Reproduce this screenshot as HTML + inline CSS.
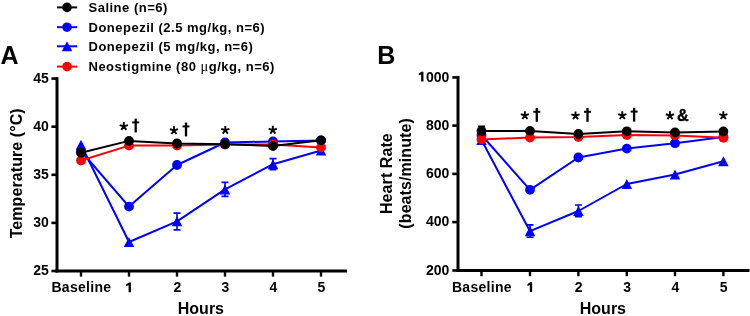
<!DOCTYPE html>
<html><head><meta charset="utf-8"><style>
html,body{margin:0;padding:0;background:#fff;}
svg{display:block;}
text{font-family:"Liberation Sans", sans-serif;font-weight:bold;fill:#000;}
.lg{font-size:13px;letter-spacing:0.5px;}
.pl{font-size:25px;}
.tk{font-size:14px;letter-spacing:0px;}
.tkb{font-size:14px;letter-spacing:0.3px;}
.ax{font-size:16px;letter-spacing:0.08px;}
.axh{font-size:16px;letter-spacing:0px;}
.amp{font-size:16.2px;stroke:#000;stroke-width:0.35px;}
</style></head><body>
<svg width="750" height="316" viewBox="0 0 750 316">
<defs><filter id="gs" x="0" y="0" width="750" height="316" filterUnits="userSpaceOnUse"><feColorMatrix type="saturate" values="0"/></filter></defs>
<rect width="750" height="316" fill="#fff"/>
<line x1="57" y1="7.4" x2="77.2" y2="7.4" stroke="#000" stroke-width="2"/>
<circle cx="67.00" cy="7.40" r="4.8" fill="#000"/>
<line x1="57" y1="27.2" x2="77.2" y2="27.2" stroke="#0000ff" stroke-width="2"/>
<circle cx="67.00" cy="27.20" r="4.8" fill="#0000ff"/>
<line x1="57" y1="46.3" x2="77.2" y2="46.3" stroke="#0000ff" stroke-width="2"/>
<path d="M61.75 51.30 L67.00 41.30 L72.25 51.30 Z" fill="#0000ff"/>
<line x1="57" y1="66.6" x2="77.2" y2="66.6" stroke="#ff0000" stroke-width="2"/>
<circle cx="67.00" cy="66.60" r="4.8" fill="#ff0000"/>
<path d="M57.0 77.1 V272.5" stroke="#000" stroke-width="3" fill="none"/>
<path d="M55.5 271.0 H347.0" stroke="#000" stroke-width="3" fill="none"/>
<path d="M51.4 78.6 H57.0" stroke="#000" stroke-width="2.6" fill="none"/>
<path d="M51.4 126.7 H57.0" stroke="#000" stroke-width="2.6" fill="none"/>
<path d="M51.4 174.8 H57.0" stroke="#000" stroke-width="2.6" fill="none"/>
<path d="M51.4 222.9 H57.0" stroke="#000" stroke-width="2.6" fill="none"/>
<path d="M51.4 271.0 H57.0" stroke="#000" stroke-width="2.6" fill="none"/>
<path d="M81 271.0 V276.6" stroke="#000" stroke-width="2.4" fill="none"/>
<path d="M129 271.0 V276.6" stroke="#000" stroke-width="2.4" fill="none"/>
<path d="M130.90 282.40 L130.90 292.20 L128.60 292.20 L128.60 285.20 L126.25 286.20 L126.25 284.20 L128.95 282.40 Z" fill="#000"/>
<path d="M177 271.0 V276.6" stroke="#000" stroke-width="2.4" fill="none"/>
<path d="M225 271.0 V276.6" stroke="#000" stroke-width="2.4" fill="none"/>
<path d="M273 271.0 V276.6" stroke="#000" stroke-width="2.4" fill="none"/>
<path d="M321 271.0 V276.6" stroke="#000" stroke-width="2.4" fill="none"/>
<path d="M177.00 213.10 V229.90 M173.50 213.10 H180.50 M173.50 229.90 H180.50" stroke="#0000ff" stroke-width="1.6" fill="none"/>
<path d="M225.00 182.40 V196.40 M221.50 182.40 H228.50 M221.50 196.40 H228.50" stroke="#0000ff" stroke-width="1.6" fill="none"/>
<path d="M273.00 158.60 V169.80 M269.50 158.60 H276.50 M269.50 169.80 H276.50" stroke="#0000ff" stroke-width="1.6" fill="none"/>
<polyline points="81.00,144.80 129.00,242.00 177.00,221.30 225.00,189.40 273.00,164.20 321.00,150.50" fill="none" stroke="#0000ff" stroke-width="2" stroke-linejoin="round"/>
<path d="M75.75 149.80 L81.00 139.80 L86.25 149.80 Z" fill="#0000ff"/>
<path d="M123.75 247.00 L129.00 237.00 L134.25 247.00 Z" fill="#0000ff"/>
<path d="M171.75 226.30 L177.00 216.30 L182.25 226.30 Z" fill="#0000ff"/>
<path d="M219.75 194.40 L225.00 184.40 L230.25 194.40 Z" fill="#0000ff"/>
<path d="M267.75 169.20 L273.00 159.20 L278.25 169.20 Z" fill="#0000ff"/>
<path d="M315.75 155.50 L321.00 145.50 L326.25 155.50 Z" fill="#0000ff"/>
<polyline points="81.00,151.00 129.00,206.60 177.00,165.00 225.00,142.50 273.00,141.50 321.00,140.40" fill="none" stroke="#0000ff" stroke-width="2" stroke-linejoin="round"/>
<circle cx="81.00" cy="151.00" r="4.9" fill="#0000ff"/>
<circle cx="129.00" cy="206.60" r="4.9" fill="#0000ff"/>
<circle cx="177.00" cy="165.00" r="4.9" fill="#0000ff"/>
<circle cx="225.00" cy="142.50" r="4.9" fill="#0000ff"/>
<circle cx="273.00" cy="141.50" r="4.9" fill="#0000ff"/>
<circle cx="321.00" cy="140.40" r="4.9" fill="#0000ff"/>
<polyline points="81.00,160.50 129.00,145.60 177.00,145.60 225.00,144.60 273.00,144.50 321.00,147.40" fill="none" stroke="#ff0000" stroke-width="2" stroke-linejoin="round"/>
<circle cx="81.00" cy="160.50" r="4.9" fill="#ff0000"/>
<circle cx="129.00" cy="145.60" r="4.9" fill="#ff0000"/>
<circle cx="177.00" cy="145.60" r="4.9" fill="#ff0000"/>
<circle cx="225.00" cy="144.60" r="4.9" fill="#ff0000"/>
<circle cx="273.00" cy="144.50" r="4.9" fill="#ff0000"/>
<circle cx="321.00" cy="147.40" r="4.9" fill="#ff0000"/>
<polyline points="81.00,152.70 129.00,140.90 177.00,143.50 225.00,144.20 273.00,146.00 321.00,140.30" fill="none" stroke="#000" stroke-width="2" stroke-linejoin="round"/>
<circle cx="81.00" cy="152.70" r="4.9" fill="#000"/>
<circle cx="129.00" cy="140.90" r="4.9" fill="#000"/>
<circle cx="177.00" cy="143.50" r="4.9" fill="#000"/>
<circle cx="225.00" cy="144.20" r="4.9" fill="#000"/>
<circle cx="273.00" cy="146.00" r="4.9" fill="#000"/>
<circle cx="321.00" cy="140.30" r="4.9" fill="#000"/>
<path d="M123.80 126.40 L123.80 122.10 M123.80 126.40 L127.89 125.07 M123.80 126.40 L126.33 129.88 M123.80 126.40 L121.27 129.88 M123.80 126.40 L119.71 125.07 " stroke="#000" stroke-width="1.9" fill="none" stroke-linecap="butt"/>
<path d="M135.70 118.60 V132.40" stroke="#000" stroke-width="2.3" fill="none"/><path d="M132.20 122.40 H139.20" stroke="#000" stroke-width="2.0" fill="none"/>
<path d="M174.00 130.50 L174.00 126.20 M174.00 130.50 L178.09 129.17 M174.00 130.50 L176.53 133.98 M174.00 130.50 L171.47 133.98 M174.00 130.50 L169.91 129.17 " stroke="#000" stroke-width="1.9" fill="none" stroke-linecap="butt"/>
<path d="M186.00 122.60 V136.40" stroke="#000" stroke-width="2.3" fill="none"/><path d="M182.50 126.40 H189.50" stroke="#000" stroke-width="2.0" fill="none"/>
<path d="M225.30 130.20 L225.30 125.90 M225.30 130.20 L229.39 128.87 M225.30 130.20 L227.83 133.68 M225.30 130.20 L222.77 133.68 M225.30 130.20 L221.21 128.87 " stroke="#000" stroke-width="1.9" fill="none" stroke-linecap="butt"/>
<path d="M272.80 130.10 L272.80 125.80 M272.80 130.10 L276.89 128.77 M272.80 130.10 L275.33 133.58 M272.80 130.10 L270.27 133.58 M272.80 130.10 L268.71 128.77 " stroke="#000" stroke-width="1.9" fill="none" stroke-linecap="butt"/>
<path d="M458.0 75.9 V272.0" stroke="#000" stroke-width="3" fill="none"/>
<path d="M456.5 270.5 H749.5" stroke="#000" stroke-width="3" fill="none"/>
<path d="M452.3 77.4 H458.0" stroke="#000" stroke-width="2.6" fill="none"/>
<path d="M423.45 71.70 L423.45 81.60 L421.15 81.60 L421.15 74.50 L418.80 75.50 L418.80 73.50 L421.50 71.70 Z" fill="#000"/>
<path d="M452.3 125.6 H458.0" stroke="#000" stroke-width="2.6" fill="none"/>
<path d="M452.3 173.9 H458.0" stroke="#000" stroke-width="2.6" fill="none"/>
<path d="M452.3 222.1 H458.0" stroke="#000" stroke-width="2.6" fill="none"/>
<path d="M452.3 270.5 H458.0" stroke="#000" stroke-width="2.6" fill="none"/>
<path d="M481.5 270.5 V276.2" stroke="#000" stroke-width="2.4" fill="none"/>
<path d="M530 270.5 V276.2" stroke="#000" stroke-width="2.4" fill="none"/>
<path d="M532.15 282.30 L532.15 292.10 L529.85 292.10 L529.85 285.10 L527.50 286.10 L527.50 284.10 L530.20 282.30 Z" fill="#000"/>
<path d="M578.4 270.5 V276.2" stroke="#000" stroke-width="2.4" fill="none"/>
<path d="M626.8 270.5 V276.2" stroke="#000" stroke-width="2.4" fill="none"/>
<path d="M675 270.5 V276.2" stroke="#000" stroke-width="2.4" fill="none"/>
<path d="M723.4 270.5 V276.2" stroke="#000" stroke-width="2.4" fill="none"/>
<path d="M481.50 126.20 V135.80 M478.00 126.20 H485.00 M478.00 135.80 H485.00" stroke="#000" stroke-width="1.6" fill="none"/>
<path d="M530.00 224.90 V237.30 M526.50 224.90 H533.50 M526.50 237.30 H533.50" stroke="#0000ff" stroke-width="1.6" fill="none"/>
<path d="M578.40 205.00 V216.80 M574.90 205.00 H581.90 M574.90 216.80 H581.90" stroke="#0000ff" stroke-width="1.6" fill="none"/>
<polyline points="481.50,140.00 530.00,231.20 578.40,211.00 626.80,184.00 675.00,174.50 723.40,161.20" fill="none" stroke="#0000ff" stroke-width="2" stroke-linejoin="round"/>
<path d="M476.25 145.00 L481.50 135.00 L486.75 145.00 Z" fill="#0000ff"/>
<path d="M524.75 236.20 L530.00 226.20 L535.25 236.20 Z" fill="#0000ff"/>
<path d="M573.15 216.00 L578.40 206.00 L583.65 216.00 Z" fill="#0000ff"/>
<path d="M621.55 189.00 L626.80 179.00 L632.05 189.00 Z" fill="#0000ff"/>
<path d="M669.75 179.50 L675.00 169.50 L680.25 179.50 Z" fill="#0000ff"/>
<path d="M718.15 166.20 L723.40 156.20 L728.65 166.20 Z" fill="#0000ff"/>
<polyline points="481.50,135.00 530.00,189.80 578.40,157.50 626.80,148.60 675.00,143.20 723.40,137.00" fill="none" stroke="#0000ff" stroke-width="2" stroke-linejoin="round"/>
<circle cx="481.50" cy="135.00" r="4.9" fill="#0000ff"/>
<circle cx="530.00" cy="189.80" r="4.9" fill="#0000ff"/>
<circle cx="578.40" cy="157.50" r="4.9" fill="#0000ff"/>
<circle cx="626.80" cy="148.60" r="4.9" fill="#0000ff"/>
<circle cx="675.00" cy="143.20" r="4.9" fill="#0000ff"/>
<circle cx="723.40" cy="137.00" r="4.9" fill="#0000ff"/>
<polyline points="481.50,139.40 530.00,137.60 578.40,137.00 626.80,135.10 675.00,135.40 723.40,137.80" fill="none" stroke="#ff0000" stroke-width="2" stroke-linejoin="round"/>
<circle cx="481.50" cy="139.40" r="4.9" fill="#ff0000"/>
<circle cx="530.00" cy="137.60" r="4.9" fill="#ff0000"/>
<circle cx="578.40" cy="137.00" r="4.9" fill="#ff0000"/>
<circle cx="626.80" cy="135.10" r="4.9" fill="#ff0000"/>
<circle cx="675.00" cy="135.40" r="4.9" fill="#ff0000"/>
<circle cx="723.40" cy="137.80" r="4.9" fill="#ff0000"/>
<polyline points="481.50,131.00 530.00,130.90 578.40,134.00 626.80,131.30 675.00,132.40 723.40,131.50" fill="none" stroke="#000" stroke-width="2" stroke-linejoin="round"/>
<circle cx="481.50" cy="131.00" r="4.9" fill="#000"/>
<circle cx="530.00" cy="130.90" r="4.9" fill="#000"/>
<circle cx="578.40" cy="134.00" r="4.9" fill="#000"/>
<circle cx="626.80" cy="131.30" r="4.9" fill="#000"/>
<circle cx="675.00" cy="132.40" r="4.9" fill="#000"/>
<circle cx="723.40" cy="131.50" r="4.9" fill="#000"/>
<path d="M524.90 115.50 L524.90 111.20 M524.90 115.50 L528.99 114.17 M524.90 115.50 L527.43 118.98 M524.90 115.50 L522.37 118.98 M524.90 115.50 L520.81 114.17 " stroke="#000" stroke-width="1.9" fill="none" stroke-linecap="butt"/>
<path d="M536.80 108.00 V121.80" stroke="#000" stroke-width="2.3" fill="none"/><path d="M533.30 111.80 H540.30" stroke="#000" stroke-width="2.0" fill="none"/>
<path d="M575.50 115.70 L575.50 111.40 M575.50 115.70 L579.59 114.37 M575.50 115.70 L578.03 119.18 M575.50 115.70 L572.97 119.18 M575.50 115.70 L571.41 114.37 " stroke="#000" stroke-width="1.9" fill="none" stroke-linecap="butt"/>
<path d="M587.50 108.00 V121.80" stroke="#000" stroke-width="2.3" fill="none"/><path d="M584.00 111.80 H591.00" stroke="#000" stroke-width="2.0" fill="none"/>
<path d="M622.30 115.50 L622.30 111.20 M622.30 115.50 L626.39 114.17 M622.30 115.50 L624.83 118.98 M622.30 115.50 L619.77 118.98 M622.30 115.50 L618.21 114.17 " stroke="#000" stroke-width="1.9" fill="none" stroke-linecap="butt"/>
<path d="M634.10 107.80 V121.60" stroke="#000" stroke-width="2.3" fill="none"/><path d="M630.60 111.60 H637.60" stroke="#000" stroke-width="2.0" fill="none"/>
<path d="M669.95 115.60 L669.95 111.30 M669.95 115.60 L674.04 114.27 M669.95 115.60 L672.48 119.08 M669.95 115.60 L667.42 119.08 M669.95 115.60 L665.86 114.27 " stroke="#000" stroke-width="1.9" fill="none" stroke-linecap="butt"/>
<path d="M723.30 115.50 L723.30 111.20 M723.30 115.50 L727.39 114.17 M723.30 115.50 L725.83 118.98 M723.30 115.50 L720.77 118.98 M723.30 115.50 L719.21 114.17 " stroke="#000" stroke-width="1.9" fill="none" stroke-linecap="butt"/>
<g filter="url(#gs)">
<text x="88.5" y="11.80" class="lg">Saline (n=6)</text>
<text x="88.5" y="31.60" class="lg">Donepezil (2.5 mg/kg, n=6)</text>
<text x="88.5" y="50.70" class="lg">Donepezil (5 mg/kg, n=6)</text>
<text x="88.5" y="71.00" class="lg">Neostigmine (80 <tspan font-family="Liberation Serif" font-weight="normal" font-size="14.5px">μ</tspan>g/kg, n=6)</text>
<text x="0.4" y="63.6" class="pl">A</text>
<text x="377.3" y="63.6" class="pl">B</text>
<text transform="translate(48.8 82.90) scale(1.0 1)" class="tk" text-anchor="end">45</text>
<text transform="translate(48.8 131.00) scale(1.0 1)" class="tk" text-anchor="end">40</text>
<text transform="translate(48.8 179.10) scale(1.0 1)" class="tk" text-anchor="end">35</text>
<text transform="translate(48.8 227.20) scale(1.0 1)" class="tk" text-anchor="end">30</text>
<text transform="translate(48.8 275.30) scale(1.0 1)" class="tk" text-anchor="end">25</text>
<text transform="translate(81.4 292.4) scale(1.0 1)" class="tkb" text-anchor="middle">Baseline</text>
<text transform="translate(177.3 292.4) scale(1.0 1)" class="tk" text-anchor="middle">2</text>
<text transform="translate(225.3 292.4) scale(1.0 1)" class="tk" text-anchor="middle">3</text>
<text transform="translate(273.3 292.4) scale(1.0 1)" class="tk" text-anchor="middle">4</text>
<text transform="translate(321.3 292.4) scale(1.0 1)" class="tk" text-anchor="middle">5</text>
<text transform="translate(200.9 313.6) scale(1.0 1)" class="axh" text-anchor="middle">Hours</text>
<text transform="translate(22.0 173.3) rotate(-90) scale(1.0 1)" class="ax" text-anchor="middle">Temperature (°C)</text>
<text transform="translate(449.4 81.70) scale(1.0 1)" class="tk" text-anchor="end">000</text>
<text transform="translate(449.4 129.90) scale(1.0 1)" class="tk" text-anchor="end">800</text>
<text transform="translate(449.4 178.20) scale(1.0 1)" class="tk" text-anchor="end">600</text>
<text transform="translate(449.4 226.40) scale(1.0 1)" class="tk" text-anchor="end">400</text>
<text transform="translate(449.4 274.80) scale(1.0 1)" class="tk" text-anchor="end">200</text>
<text transform="translate(481.9 292.3) scale(1.0 1)" class="tkb" text-anchor="middle">Baseline</text>
<text transform="translate(578.6999999999999 292.3) scale(1.0 1)" class="tk" text-anchor="middle">2</text>
<text transform="translate(627.0999999999999 292.3) scale(1.0 1)" class="tk" text-anchor="middle">3</text>
<text transform="translate(675.3 292.3) scale(1.0 1)" class="tk" text-anchor="middle">4</text>
<text transform="translate(723.6999999999999 292.3) scale(1.0 1)" class="tk" text-anchor="middle">5</text>
<text transform="translate(602.9 314.0) scale(1.0 1)" class="axh" text-anchor="middle">Hours</text>
<text transform="translate(391.8 173.6) rotate(-90) scale(1.0 1)" class="ax" text-anchor="middle">Heart Rate</text>
<text transform="translate(410.6 173.4) rotate(-90) scale(1.0 1)" class="ax" text-anchor="middle">(beats/minute)</text>
<text x="677.0" y="120.5" class="amp">&amp;</text>
</g>
</svg>
</body></html>
